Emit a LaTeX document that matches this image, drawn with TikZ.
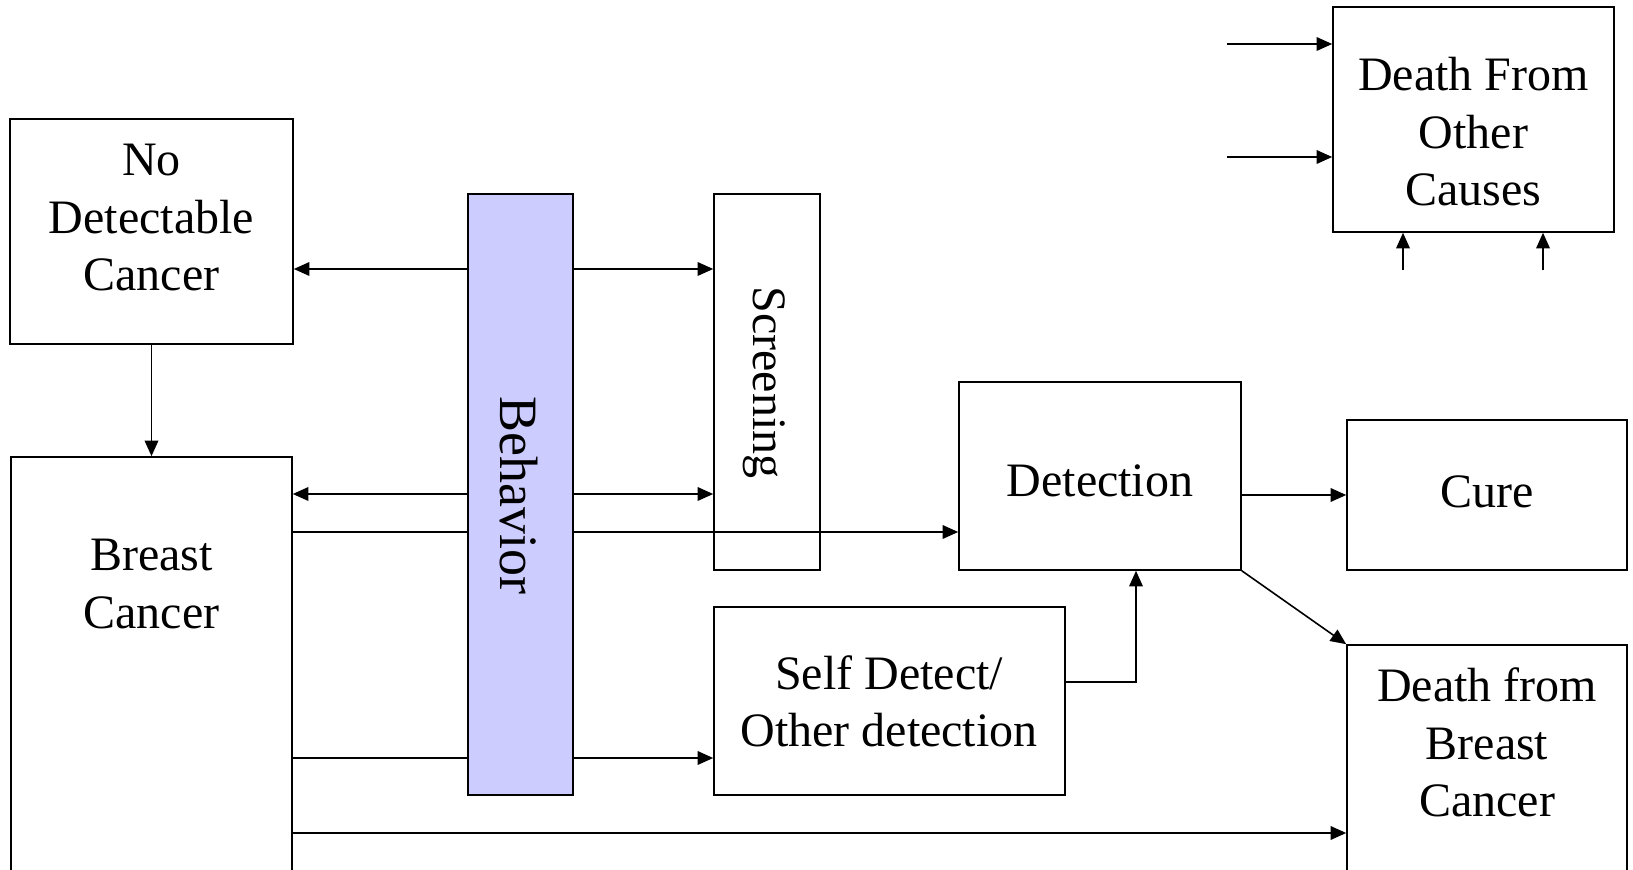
\documentclass[tikz,border=0pt]{standalone}
\usepackage{fontspec}
\setmainfont{Liberation Serif}
\usetikzlibrary{arrows.meta,fit,backgrounds}
\definecolor{behav}{RGB}{204,204,255}
\begin{document}
\begin{tikzpicture}[x=0.5pt,y=-0.5pt,
  box/.style={draw=black, line width=0.8pt, inner sep=0pt},
  txt/.style={font=\fontsize{24}{28.75}\selectfont, inner sep=0pt, anchor=base},
  rtxt/.style={inner sep=0pt, anchor=center, rotate=-90},
  arr/.style={line width=0.8pt, -{Triangle[length=7.8pt,width=6.8pt]}}]
\useasboundingbox (0,0) rectangle (1633,870);

% boxes
\node[box, fit={(10,119) (293,344)}] (ndc) {};
\node[box, fit={(11,457) (292,885)}] (bc) {};
\node[box, fit={(468,194) (573,795)}, fill=behav] (beh) {};
\node[box, fit={(714,194) (820,570)}] (scr) {};
\node[box, fit={(959,382) (1241,570)}] (det) {};
\node[box, fit={(1347,420) (1627,570)}] (cure) {};
\node[box, fit={(1333,7) (1614,232)}] (dfoc) {};
\node[box, fit={(714,607) (1065,795)}] (self) {};
\node[box, fit={(1347,645) (1627,885)}] (dfbc) {};

% texts
\node[txt] (ndc-t) at (151.5,176) {\begin{tabular}[t]{@{}c@{}}No\\Detectable\\Cancer\end{tabular}};
\node[txt] (bc-t) at (151.5,571) {\begin{tabular}[t]{@{}c@{}}Breast\\Cancer\end{tabular}};
\node[rtxt, font=\fontsize{27}{32}\selectfont] (beh-t) at (518.5,495.5) {Behavior};
\node[rtxt, font=\fontsize{24}{28.75}\selectfont] (scr-t) at (764,382.5) {Screening};
\node[txt] (det-t) at (1100,497) {Detection};
\node[txt] (cure-t) at (1487,508) {Cure};
\node[txt] (dfoc-t) at (1473.5,91) {\begin{tabular}[t]{@{}c@{}}Death From\\Other\\Causes\end{tabular}};
\node[txt] (self-t) at (889,689.5) {\begin{tabular}[t]{@{}c@{}}Self Detect/\\Other detection\end{tabular}};
\node[txt] (dfbc-t) at (1487,702) {\begin{tabular}[t]{@{}c@{}}Death from\\Breast\\Cancer\end{tabular}};

% free ends
\coordinate (in1) at (1227,44);
\coordinate (in2) at (1227,157);
\coordinate (in3) at (1403,270);
\coordinate (in4) at (1543,270);

\begin{scope}[on background layer]
\draw[arr] (beh.west |- 0,269) -- (ndc.east |- 0,269);
\draw[arr] (beh.east |- 0,269) -- (scr.west |- 0,269);
\draw[arr] (beh.west |- 0,494) -- (bc.east |- 0,494);
\draw[arr] (beh.east |- 0,494) -- (scr.west |- 0,494);
\draw[arr] (bc.east |- 0,532) -- (det.west |- 0,532);
\draw[arr] (bc.east |- 0,758) -- (self.west |- 0,758);
\draw[arr] (bc.east |- 0,833) -- (dfbc.west |- 0,833);
\draw[arr] (ndc.south) -- (bc.north);
\draw[arr] (self.east |- 0,682) -| (det.south -| 1136,0);
\draw[arr] (det.east |- 0,495) -- (cure.west |- 0,495);
\draw[arr] (det.south east) -- (dfbc.north west);
\draw[arr] (in1) -- (dfoc.west |- in1);
\draw[arr] (in2) -- (dfoc.west |- in2);
\draw[arr] (in3) -- (dfoc.south -| in3);
\draw[arr] (in4) -- (dfoc.south -| in4);
\end{scope}
\end{tikzpicture}
\end{document}
